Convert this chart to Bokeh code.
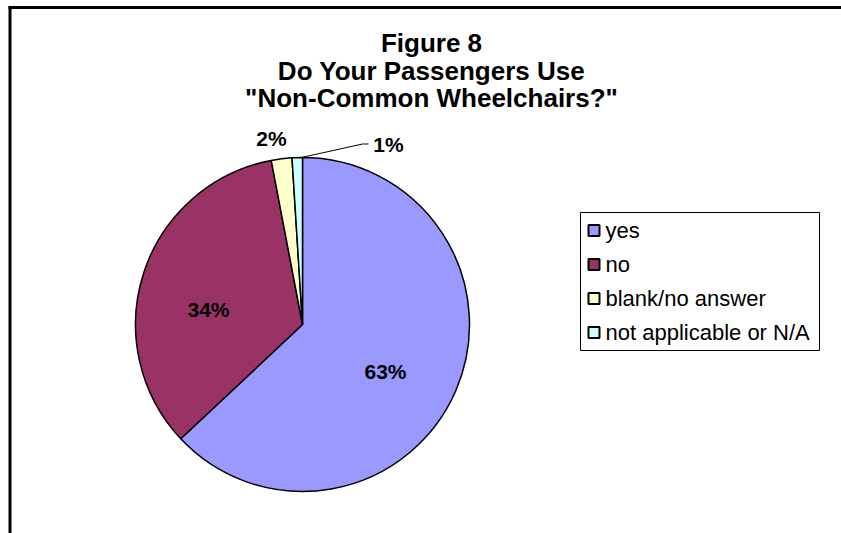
import math
from bokeh.plotting import figure
from bokeh.models import Range1d, ColumnDataSource
from bokeh.core.properties import value
from bokeh.embed import file_html
from bokeh.resources import INLINE

# ---- data ----
categories = ["yes", "no", "blank/no answer", "not applicable or N/A"]
percents = [63, 34, 2, 1]
colors = ["#9999FF", "#993366", "#FFFFCC", "#CCFFFF"]
title_lines = ["Figure 8", "Do Your Passengers Use", "\"Non-Common Wheelchairs?\""]

# ---- layout (screen pixel coords) ----
W, H = 841, 533
FONT = "Liberation Sans"

def sy(y):  # screen y -> data y
    return H - y

p = figure(width=W, height=H, output_backend="svg", toolbar_location=None,
           x_range=Range1d(0, W), y_range=Range1d(0, H),
           x_axis_location=None, y_axis_location=None, min_border=0,
           outline_line_color=None, background_fill_color="white",
           border_fill_color="white")
p.grid.visible = False

# outer frame (top & left visible)
p.line(x=[8, W], y=[sy(7), sy(7)], line_color="black", line_width=3)
p.line(x=[9.5, 9.5], y=[sy(5.5), sy(H)], line_color="black", line_width=3)

# pie
cx, cy, R = 302, sy(324), 167
total = float(sum(percents))
starts, ends = [], []
cum = 0.0
for v in percents:
    starts.append(math.pi / 2 - 2 * math.pi * cum / total)
    cum += v
    ends.append(math.pi / 2 - 2 * math.pi * cum / total)
src = ColumnDataSource(dict(start=starts, end=ends, color=colors, cat=categories))
p.wedge(x=cx, y=cy, radius=R, start_angle="start", end_angle="end",
        direction="clock", fill_color="color", line_color="black",
        line_width=1.5, source=src)

# data labels
label_pos = [(385, 371), (208, 309), (271, 138), (388, 144)]
p.text(x=[q[0] for q in label_pos], y=[sy(q[1]) for q in label_pos],
       text=[f"{v}%" for v in percents], text_font=value(FONT),
       text_font_style="bold", text_font_size="21px", text_align="center",
       text_baseline="middle", text_color="black")
# leader line for 1%
p.line(x=[301, 362, 368], y=[sy(157), sy(143.5), sy(143.5)], line_color="black", line_width=1)

# title
title_y = [42, 70, 97]
p.text(x=[431] * 3, y=[sy(t) for t in title_y], text=title_lines,
       text_font=value(FONT), text_font_style="bold", text_font_size="26px",
       text_align="center", text_baseline="middle", text_color="black")

# legend
p.quad(left=[580], right=[819], top=[sy(212)], bottom=[sy(350)],
       fill_color="white", line_color="black", line_width=1)
leg_y = [230, 264, 298, 332]
p.rect(x=[593.5] * 4, y=[sy(v) for v in leg_y], width=11, height=11,
       fill_color=colors, line_color="black", line_width=2)
p.text(x=[605] * 4, y=[sy(v) for v in leg_y], text=categories,
       text_font=value(FONT), text_font_size="22px", text_align="left",
       text_baseline="middle", text_color="black")

open("out.html", "w").write(file_html(p, INLINE))
